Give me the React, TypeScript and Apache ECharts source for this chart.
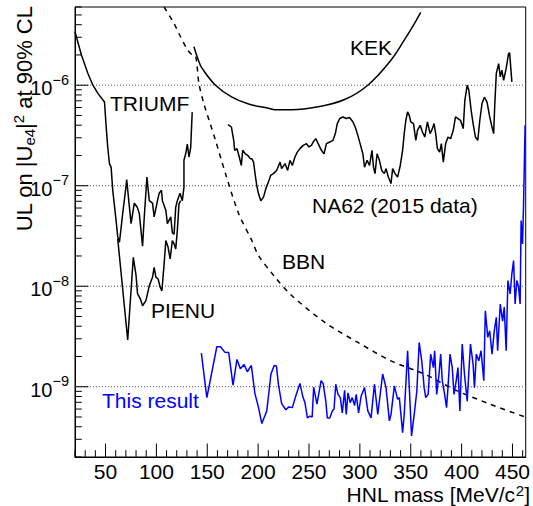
import React, { useEffect, useRef } from "react";
import * as echarts from "echarts";

const FONT = '"Liberation Sans", Arial, Helvetica, sans-serif';

const X_MIN = 20;
const X_MAX = 463;
const Y_MIN = 2e-10;
const Y_MAX = 6e-6;

const X_TICKS_MAJOR = [50, 100, 150, 200, 250, 300, 350, 400, 450];
const X_TICKS_MINOR = [20, 30, 40, 60, 70, 80, 90, 110, 120, 130, 140, 160, 170, 180, 190, 210, 220, 230, 240, 260, 270, 280, 290, 310, 320, 330, 340, 360, 370, 380, 390, 410, 420, 430, 440, 460];
const Y_DECADES = [1e-10, 1e-9, 1e-8, 1e-7, 1e-6];
const Y_MANTISSAS = [2, 3, 4, 5, 6, 7, 8, 9];
const Y_TICKS_MAJOR = [1e-9, 1e-8, 1e-7, 1e-6];

const triumfMass = [20, 26.3, 32.7, 37.6, 42.5, 49, 50.7, 52.2, 53.9, 55.5, 57.1, 60.4, 62, 63.7, 66.9, 70.2, 70.8, 75.1, 78.3, 81.2, 83.2, 86.4, 88.1, 90.7, 93, 96.2, 97.8, 101.1, 102.7, 105, 105.9, 109.3, 110.8, 114.1, 115.7, 117.4, 119, 120.6, 123.2, 125.5, 127.1, 127.1, 128.8, 130.4, 132, 133.7, 135.2];
const triumfUL = [3.4e-6, 2.0e-6, 1.31e-6, 1.0e-6, 8.3e-7, 6.8e-7, 3.8e-7, 2.4e-7, 1.65e-7, 1.53e-7, 9.0e-8, 4.5e-8, 3.1e-8, 2.74e-8, 5.3e-8, 1.0e-7, 1.15e-7, 4.2e-8, 6.7e-8, 6.1e-8, 5.3e-8, 2.5e-8, 4.9e-8, 1.22e-7, 7.1e-8, 6.7e-8, 4.9e-8, 7.1e-8, 8.4e-8, 9.0e-8, 7.1e-8, 5.7e-8, 4.2e-8, 4.9e-8, 3.4e-8, 3.3e-8, 6.1e-8, 7.1e-8, 8.4e-8, 7.1e-8, 9.7e-8, 1.79e-7, 2.08e-7, 2.6e-7, 1.93e-7, 2.4e-7, 5.4e-7];

const pienuMass = [62, 71.8, 77.3, 80, 81.5, 84.2, 86.4, 89.7, 93, 96.2, 97.8, 99.5, 101.7, 103.7, 105.4, 107.6, 109.3, 111.5, 113.5, 115.7, 117.4, 119, 120.6, 122.2, 123.9];
const pienuUL = [2.96e-8, 2.92e-9, 1.94e-8, 1.28e-8, 8.4e-9, 7.5e-9, 6.4e-9, 7.2e-9, 1.01e-8, 1.23e-8, 1.54e-8, 1.23e-8, 1.18e-8, 9.8e-9, 9.0e-9, 1.67e-8, 2.85e-8, 2.44e-8, 1.87e-8, 2.85e-8, 2.64e-8, 2.35e-8, 3.6e-8, 6.6e-8, 7.1e-8];

const kekMass = [136.9, 141.8, 145, 158.1, 174.3, 190.6, 210.1, 216.7, 232.9, 259, 285, 307.8, 330.5, 343.6, 351.7, 359.8];
const kekUL = [2.41e-6, 1.71e-6, 1.47e-6, 1.0e-6, 7.6e-7, 6.5e-7, 5.9e-7, 5.7e-7, 5.7e-7, 6.1e-7, 7.2e-7, 1.0e-6, 1.77e-6, 2.81e-6, 3.8e-6, 5.3e-6];

const bbnMass = [107.6, 117.4, 122.2, 130, 135.2, 138.6, 141.8, 146.6, 158.1, 167.9, 180.8, 193.8, 200.4, 216.7, 232.9, 265.5, 298, 330.5, 363.2, 395.7, 428.2, 462.4];
const bbnUL = [6.0e-6, 4.1e-6, 3.27e-6, 2.3e-6, 2.0e-6, 1.95e-6, 1.04e-6, 6.6e-7, 2.83e-7, 1.32e-7, 5.3e-8, 2.85e-8, 2.02e-8, 1.23e-8, 8.1e-9, 4.37e-9, 2.76e-9, 1.81e-9, 1.34e-9, 9.1e-10, 6.7e-10, 5.0e-10];

const na62Mass = [170.4, 173.7, 176, 176.9, 179.2, 181.5, 183.5, 184.8, 187.4, 189.9, 192.3, 193.8, 195.5, 197.2, 198.7, 200.4, 202.6, 205.3, 207.5, 210.1, 212.4, 215, 218.2, 221.6, 223.1, 226.5, 229, 231.3, 233.6, 236.2, 238.5, 241.1, 244.3, 247.5, 249.9, 252.4, 254.1, 256.7, 259, 262.2, 264.8, 267.1, 270.4, 273.6, 275.9, 277.8, 280.2, 283.4, 286.6, 289.9, 293.2, 295.4, 298, 300.7, 302.9, 304.6, 307.1, 309.5, 311.9, 313.4, 314.9, 316.9, 319.2, 321.5, 324.1, 325.7, 328, 330.6, 332.2, 334.5, 337.1, 339.7, 342, 343.6, 345.2, 346.9, 348.5, 350.1, 352.7, 355, 356.6, 359.3, 361.5, 363.8, 366.4, 369, 371.3, 372.9, 374.5, 376.2, 378.4, 380.1, 382, 384.3, 386.6, 389.2, 391.8, 394, 396.4, 398.9, 401.6, 403.2, 405.5, 407.1, 409.4, 411.3, 413.6, 415.9, 417.9, 420.1, 422.4, 425, 427.6, 429.9, 431.5, 432.5, 434.1, 436.4, 438, 439.6, 441.3, 443.8, 446.2, 447.2, 449.4];
const na62UL = [4.06e-7, 3.84e-7, 2.83e-7, 2.25e-7, 2.34e-7, 1.93e-7, 1.59e-7, 2.25e-7, 2.08e-7, 2.0e-7, 1.86e-7, 1.86e-7, 1.72e-7, 1.27e-7, 1.0e-7, 8.3e-8, 7.1e-8, 7.7e-8, 9.3e-8, 1.09e-7, 1.27e-7, 1.32e-7, 1.42e-7, 1.72e-7, 1.48e-7, 1.66e-7, 1.42e-7, 1.79e-7, 1.59e-7, 1.93e-7, 2.16e-7, 2.34e-7, 2.52e-7, 2.62e-7, 2.43e-7, 2.52e-7, 2.72e-7, 2.94e-7, 2.62e-7, 2.25e-7, 2.08e-7, 2.62e-7, 2.72e-7, 2.83e-7, 3.3e-7, 4.15e-7, 4.66e-7, 4.83e-7, 4.66e-7, 4.77e-7, 4.31e-7, 3.84e-7, 3.17e-7, 2.52e-7, 2.08e-7, 1.53e-7, 1.79e-7, 1.59e-7, 2.25e-7, 1.53e-7, 1.32e-7, 2.08e-7, 1.79e-7, 1.42e-7, 1.32e-7, 1.48e-7, 1.22e-7, 1.05e-7, 1.48e-7, 1.32e-7, 1.22e-7, 1.59e-7, 2.25e-7, 3.3e-7, 4.48e-7, 5.42e-7, 5.02e-7, 4.31e-7, 4.15e-7, 2.83e-7, 3.56e-7, 3.99e-7, 3.42e-7, 3.05e-7, 4.31e-7, 3.3e-7, 3.7e-7, 4.15e-7, 3.3e-7, 2.34e-7, 2.16e-7, 2.62e-7, 1.72e-7, 2.62e-7, 3.05e-7, 2.94e-7, 3.56e-7, 4.83e-7, 4.66e-7, 4.48e-7, 3.7e-7, 7.1e-7, 1.0e-6, 8.9e-7, 5.6e-7, 4.15e-7, 3.05e-7, 2.83e-7, 4.48e-7, 6.6e-7, 7.6e-7, 6.8e-7, 4.83e-7, 3.84e-7, 3.3e-7, 6.1e-7, 1.31e-6, 1.64e-6, 1.21e-6, 1.41e-6, 1.12e-6, 1.47e-6, 2.07e-6, 2.1e-6, 1.08e-6];

const thisMass = [144.2, 149.6, 159.4, 163, 167.2, 171.1, 175.3, 179.2, 182.5, 186.2, 189.4, 193.3, 196.8, 200.4, 203.6, 208.5, 212.6, 215.8, 218, 219.9, 223.1, 227.2, 230.2, 233.6, 237, 241.1, 244, 246, 248.4, 250.9, 253.1, 254.6, 257.8, 261.9, 263.9, 266.5, 268, 270.4, 272.9, 274.6, 276.3, 278.5, 280.8, 282.7, 285, 286.6, 288.3, 290.5, 292.5, 294.8, 296.4, 298.7, 301.3, 304.6, 307.8, 311, 314.3, 317.6, 322.4, 325.7, 329, 330.6, 333.9, 337.1, 338.8, 342, 343.6, 346.9, 349.5, 350.8, 353.4, 356, 358.3, 360.8, 363.2, 364.7, 367.1, 369.6, 372.3, 373.5, 375.5, 377.8, 379.4, 381, 383.3, 385.2, 386.6, 388.6, 390.8, 392.5, 394.7, 396.4, 398.3, 400.6, 402.8, 405.5, 408.7, 411.3, 412.6, 414.5, 416.9, 419.1, 421.8, 423.3, 425.7, 427.6, 429.9, 432.1, 434.1, 435.4, 438, 440.3, 441.9, 443.8, 445.5, 447.7, 449.4, 451.1, 452.6, 454.3, 456, 457.5, 458.5, 459.9, 460.9, 462.4];
const thisUL = [2.16e-9, 7.8e-10, 2.5e-9, 2.5e-9, 2.21e-9, 2.19e-9, 1.04e-9, 1.87e-9, 1.51e-9, 1.66e-9, 1.41e-9, 1.63e-9, 8.6e-10, 6.2e-10, 4.3e-10, 5.75e-10, 1.34e-9, 1.63e-9, 1.61e-9, 1.06e-9, 6.8e-10, 5.9e-10, 6.3e-10, 6.2e-10, 8.1e-10, 1.08e-9, 7.9e-10, 6.95e-10, 4.9e-10, 5.1e-10, 5.0e-10, 9.9e-10, 6.7e-10, 1.15e-9, 1.08e-9, 7.2e-10, 4.9e-10, 4.9e-10, 5.75e-10, 6.0e-10, 1.06e-9, 8.4e-10, 7.8e-10, 5.5e-10, 9.2e-10, 5.3e-10, 8.7e-10, 6.95e-10, 7.8e-10, 6.5e-10, 8.4e-10, 5.5e-10, 8.1e-10, 9.8e-10, 5.75e-10, 4.9e-10, 1.06e-9, 5.3e-10, 1.34e-9, 9.8e-10, 4.57e-10, 5.3e-10, 1.02e-9, 7.5e-10, 7.8e-10, 3.5e-10, 5.3e-10, 2.28e-9, 6.2e-10, 3.24e-10, 5.3e-10, 9.1e-10, 2.76e-9, 1.81e-9, 9.8e-10, 7.8e-10, 8.4e-10, 2.11e-9, 1.55e-9, 2.28e-9, 8.4e-10, 1.34e-9, 2.11e-9, 1.15e-9, 8.4e-10, 6.2e-10, 9.8e-10, 2.11e-9, 1.55e-9, 8.4e-10, 1.15e-9, 1.55e-9, 5.75e-10, 2.66e-9, 1.34e-9, 7.2e-10, 2.66e-9, 1.68e-9, 9.8e-10, 2.11e-9, 1.81e-9, 2.28e-9, 1.15e-9, 5.7e-9, 3.1e-9, 3.6e-9, 2.11e-9, 3.6e-9, 4.9e-9, 2.28e-9, 6.65e-9, 4.5e-9, 6.2e-9, 2.28e-9, 1.14e-8, 8.4e-9, 1.33e-8, 1.8e-8, 6.65e-9, 1.14e-8, 9.8e-9, 6.65e-9, 4.5e-8, 2.64e-8, 6.6e-8, 4.0e-7];

function zip(xs: number[], ys: number[]) {
  const n = Math.min(xs.length, ys.length);
  const out: number[][] = [];
  for (let i = 0; i < n; i++) out.push([xs[i], ys[i]]);
  return out;
}

function isDecade(v: number) {
  const e = Math.log10(v);
  return Math.abs(e - Math.round(e)) < 1e-6;
}

const yMinorTicks: number[] = [];
Y_DECADES.forEach((d) => Y_MANTISSAS.forEach((m) => {
  const v = d * m;
  if (v >= Y_MIN * 0.999 && v <= Y_MAX * 1.001) yMinorTicks.push(v);
}));

const MAJOR_LEN = 13.5;
const MINOR_LEN = 6.8;
const TXT = 21;

function lineSeries(name: string, data: number[][], color: string, dashed = false, smooth: boolean | number = false) {
  return {
    type: "line",
    name,
    data,
    showSymbol: false,
    symbol: "none",
    smooth,
    silent: true,
    z: 3,
    lineStyle: { color, width: 1.5, type: dashed ? [5, 5] : "solid" },
  };
}

function label(text: string, left: number, top: number, fill = "#000") {
  return { type: "text", left, top, style: { text, fontSize: TXT, fontFamily: FONT, fill } };
}

const option: any = {
  animation: false,
  backgroundColor: "#ffffff",
  grid: { left: 75, right: 4, top: 7, bottom: 49, show: true, borderColor: "#000", borderWidth: 1, backgroundColor: "transparent" },
  xAxis: {
    type: "value",
    min: X_MIN,
    max: X_MAX,
    interval: 10,
    axisLine: { show: true, lineStyle: { color: "#000", width: 1 } },
    axisTick: { show: false },
    splitLine: { show: false },
    axisLabel: {
      margin: 4,
      color: "#000",
      fontFamily: FONT,
      fontSize: 21,
      lineHeight: 20,
      formatter: (v: number) => (Math.abs(v % 50) < 1e-6 ? String(v) : ""),
    },
  },
  yAxis: {
    type: "log",
    logBase: 10,
    min: Y_MIN,
    max: Y_MAX,
    axisLine: { show: true, lineStyle: { color: "#000", width: 1 } },
    axisTick: { show: false },
    splitLine: { show: false },
    axisLabel: {
      margin: 6,
      color: "#000",
      formatter: (v: number) => {
        if (!isDecade(v)) return "";
        const e = Math.round(Math.log10(v));
        return "{b|10}{s|" + (e < 0 ? "\u2212" + -e : String(e)) + "}";
      },
      rich: {
        b: { fontSize: 20, fontFamily: FONT, color: "#000", lineHeight: 26, verticalAlign: "bottom" },
        s: { fontSize: 14.5, fontFamily: FONT, color: "#000", lineHeight: 16, verticalAlign: "top" },
      },
    },
  },
  series: [
    {
      type: "custom",
      name: "grid",
      silent: true,
      z: 1,
      encode: { x: 0, y: 1 },
      data: Y_TICKS_MAJOR.map((v) => [X_MIN, v]),
      renderItem: (params: any, api: any) => {
        const p = api.coord([X_MIN, api.value(1)]);
        const cs = params.coordSys;
        return {
          type: "line",
          shape: { x1: cs.x, y1: p[1], x2: cs.x + cs.width, y2: p[1] },
          style: { stroke: "#555", lineWidth: 1, lineDash: [1, 2] },
        };
      },
    },
    {
      type: "custom",
      name: "xticks",
      silent: true,
      z: 4,
      encode: { x: 0, y: 1 },
      data: [
        ...X_TICKS_MAJOR.map((v) => [v, Y_MIN, 1]),
        ...X_TICKS_MINOR.map((v) => [v, Y_MIN, 0]),
      ],
      renderItem: (params: any, api: any) => {
        const p = api.coord([api.value(0), Y_MIN]);
        const len = api.value(2) === 1 ? MAJOR_LEN : MINOR_LEN;
        return {
          type: "line",
          shape: { x1: p[0], y1: p[1], x2: p[0], y2: p[1] - len },
          style: { stroke: "#000", lineWidth: 1 },
        };
      },
    },
    {
      type: "custom",
      name: "yticks",
      silent: true,
      z: 4,
      encode: { x: 0, y: 1 },
      data: [
        ...Y_TICKS_MAJOR.map((v) => [X_MIN, v, 1]),
        ...yMinorTicks.map((v) => [X_MIN, v, 0]),
      ],
      renderItem: (params: any, api: any) => {
        const p = api.coord([X_MIN, api.value(1)]);
        const len = api.value(2) === 1 ? MAJOR_LEN : MINOR_LEN;
        return {
          type: "line",
          shape: { x1: p[0], y1: p[1], x2: p[0] + len, y2: p[1] },
          style: { stroke: "#000", lineWidth: 1 },
        };
      },
    },
    lineSeries("BBN", zip(bbnMass, bbnUL), "#000", true, 0.3),
    lineSeries("KEK", zip(kekMass, kekUL), "#000", false, 0.4),
    lineSeries("TRIUMF", zip(triumfMass, triumfUL), "#000"),
    lineSeries("PIENU", zip(pienuMass, pienuUL), "#000"),
    lineSeries("NA62 (2015 data)", zip(na62Mass, na62UL), "#000"),
    lineSeries("This result", zip(thisMass, thisUL), "#0000ff"),
  ],
  graphic: [
    label("TRIUMF", 110, 93),
    label("KEK", 350, 37),
    label("NA62 (2015 data)", 312, 195),
    label("BBN", 282, 251),
    label("PIENU", 151, 300),
    label("This result", 102, 390, "#0000ff"),
    {
      type: "text",
      right: 3,
      top: 483,
      style: {
        text: "{a|HNL mass [MeV/c}{s|2}{a|]}",
        rich: {
          a: { fontSize: TXT, fontFamily: FONT, color: "#000", lineHeight: 22, verticalAlign: "bottom" },
          s: { fontSize: 15, fontFamily: FONT, color: "#000", lineHeight: 9, verticalAlign: "top" },
        },
      },
    },
    {
      type: "text",
      x: 11,
      y: 6,
      rotation: Math.PI / 2,
      style: {
        text: "{a|UL on |U}{d|e4}{a||}{s|2}{a| at 90% CL}",
        align: "right",
        verticalAlign: "top",
        rich: {
          a: { fontSize: 22, fontFamily: FONT, color: "#000", lineHeight: 26, verticalAlign: "middle" },
          d: { fontSize: 15, fontFamily: FONT, color: "#000", lineHeight: 14, verticalAlign: "bottom" },
          s: { fontSize: 15, fontFamily: FONT, color: "#000", lineHeight: 14, verticalAlign: "top" },
        },
      },
    },
  ],
};

export default function App() {
  const ref = useRef<HTMLDivElement>(null);
  useEffect(() => {
    const chart = echarts.init(ref.current!, null, { renderer: "svg" });
    chart.setOption(option);
    return () => chart.dispose();
  }, []);
  return <div ref={ref} style={{ position: "fixed", left: 0, top: 0, width: 533, height: 506 }} />;
}
